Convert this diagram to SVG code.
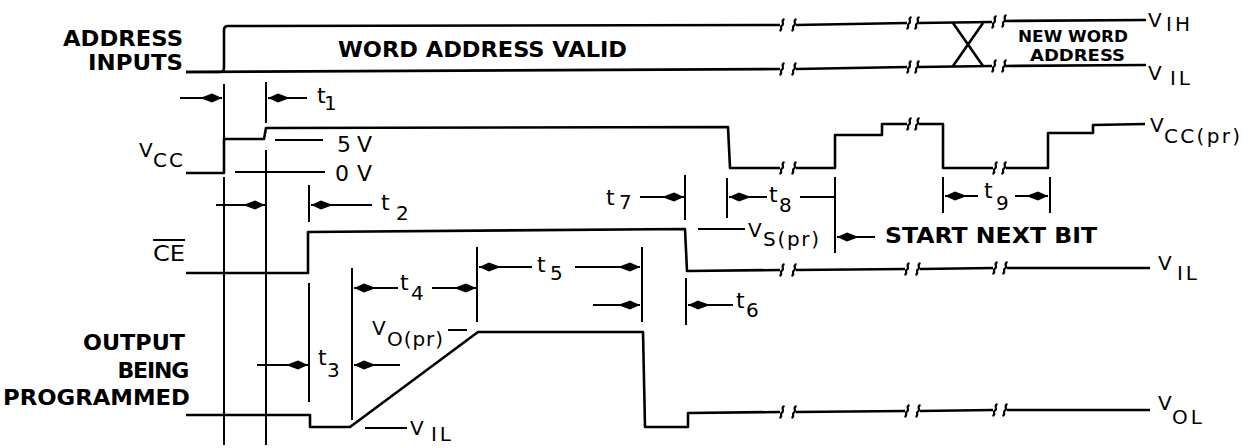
<svg xmlns="http://www.w3.org/2000/svg" xmlns:xlink="http://www.w3.org/1999/xlink" width="1256" height="448" viewBox="0 0 1256 448">
<style>
.w{fill:none;stroke:#000;stroke-width:2.6;stroke-linejoin:round}
.d{fill:none;stroke:#000;stroke-width:2}
.a{marker-end:url(#ah)}
.bk{fill:none;stroke:#000;stroke-width:2.2}
text{font-family:"DejaVu Sans","Liberation Sans",Arial,sans-serif;fill:#000}
.b{font-weight:bold;font-size:22px}
.n{font-size:22px}
.v{font-size:20px}
.s{font-size:20px}
.sm{font-weight:bold;font-size:16px}
</style>
<defs>
<marker id="ah" viewBox="-23 -5 24 10" refX="0" refY="0" markerWidth="24" markerHeight="10" markerUnits="userSpaceOnUse" orient="auto"><path d="M0,0 L-10,-4.5 L-22,0 L-10,4.5 Z" fill="#000"/></marker>
<path id="bk" d="M2.5,-6 C-2,-4.5 3,-1 0,0.5 C-3,2 1.5,4.5 -2.5,6"/>
</defs>
<rect width="1256" height="448" fill="#fff"/>

<g id="address">
<path class="w" d="M186,72 L220,72 Q224,72 224,68 L224,30 Q224,26 228,26 L780,25"/>
<path class="w" d="M796,25 L907,23 M918,23 L992,22 M1005,21 L1146,20"/>
<path class="w" d="M186,72 L780,69 M796,69 L907,67 M918,67 L992,66 M1005,66 L1146,65"/>
<path class="w" d="M953,23 L983,66 M983,23 L953,66"/>
<g class="bk">
<use href="#bk" x="782" y="25"/><use href="#bk" x="794" y="25"/>
<use href="#bk" x="782" y="69"/><use href="#bk" x="794" y="69"/>
<use href="#bk" x="909" y="23"/><use href="#bk" x="917" y="23"/>
<use href="#bk" x="909" y="67"/><use href="#bk" x="917" y="67"/>
<use href="#bk" x="994" y="22"/><use href="#bk" x="1004" y="21"/>
<use href="#bk" x="994" y="66"/><use href="#bk" x="1004" y="66"/>
</g>
<text class="b" x="63" y="46" textLength="120" lengthAdjust="spacingAndGlyphs">ADDRESS</text>
<text class="b" x="88" y="70" textLength="95" lengthAdjust="spacingAndGlyphs">INPUTS</text>
<text class="b" x="338" y="57" textLength="289" lengthAdjust="spacingAndGlyphs">WORD ADDRESS VALID</text>
<text class="sm" x="1018" y="42" textLength="110" lengthAdjust="spacingAndGlyphs">NEW WORD</text>
<text class="sm" x="1030" y="61" textLength="95" lengthAdjust="spacingAndGlyphs">ADDRESS</text>
<text class="v" x="1148" y="27">V<tspan class="s" x="1166" y="31" textLength="24" lengthAdjust="spacing">IH</tspan></text>
<text class="v" x="1148" y="80">V<tspan class="s" x="1170" y="85" textLength="20" lengthAdjust="spacing">IL</tspan></text>
</g>

<g id="vcc">
<path class="w" d="M186,173 L224,173 L224,139 L264,139 L266,128 L728,127 L730,168 L780,168 M796,168 L835,168 L835,135 L882,135 L882,124 L907,124 M919,124 L943,124 L943,168 L993,168 M1006,168 L1048,168 L1048,133 L1093,133 L1093,125 L1145,124"/>
<g class="bk">
<use href="#bk" x="782" y="168"/><use href="#bk" x="794" y="168"/>
<use href="#bk" x="909" y="124"/><use href="#bk" x="917" y="124"/>
<use href="#bk" x="995" y="168"/><use href="#bk" x="1004" y="168"/>
</g>
<text class="v" x="139" y="157">V<tspan class="s" x="153" y="167" textLength="30" lengthAdjust="spacing">CC</tspan></text>
<text class="n" x="337" y="152" textLength="35" lengthAdjust="spacing">5V</text>
<text class="n" x="335" y="181" textLength="37" lengthAdjust="spacing">0V</text>
<text class="v" x="1150" y="132">V<tspan class="s" x="1164" y="143" textLength="76" lengthAdjust="spacing">CC(pr)</tspan></text>
</g>

<g id="ce">
<path class="w" d="M186,273 L308,273 L308,232 L685,229 L687,271 L780,270 M796,270 L905,269 M920,269 L993,268 M1007,268 L1150,268"/>
<g class="bk">
<use href="#bk" x="782" y="270"/><use href="#bk" x="794" y="270"/>
<use href="#bk" x="907" y="269"/><use href="#bk" x="918" y="269"/>
<use href="#bk" x="995" y="268"/><use href="#bk" x="1005" y="268"/>
</g>
<text class="n" x="153" y="261" textLength="32" lengthAdjust="spacingAndGlyphs">CE</text>
<line class="d" x1="153" y1="240" x2="185" y2="240"/>
<text class="v" x="1158" y="270">V<tspan class="s" x="1177" y="280" textLength="20" lengthAdjust="spacing">IL</tspan></text>
<text class="v" x="748" y="237">V<tspan class="s" x="763" y="246" textLength="56" lengthAdjust="spacing">S(pr)</tspan></text>
<text class="b" x="885" y="243" textLength="212" lengthAdjust="spacingAndGlyphs">START NEXT BIT</text>
</g>

<g id="output">
<path class="w" d="M186,415 L310,415 L310,427 L350,427 L478,332 L643,332 L645,427 L688,427 L688,413 L780,412 M796,412 L905,411 M920,411 L993,410 M1007,410 L1150,410"/>
<g class="bk">
<use href="#bk" x="782" y="412"/><use href="#bk" x="794" y="412"/>
<use href="#bk" x="907" y="411"/><use href="#bk" x="918" y="411"/>
<use href="#bk" x="995" y="410"/><use href="#bk" x="1005" y="410"/>
</g>
<text class="b" x="83" y="350" textLength="102" lengthAdjust="spacingAndGlyphs">OUTPUT</text>
<text class="b" x="188" y="378" text-anchor="end" letter-spacing="-1.2">BEING</text>
<text class="b" x="3" y="405" textLength="187" lengthAdjust="spacingAndGlyphs">PROGRAMMED</text>
<text class="v" x="372" y="335">V<tspan class="s" x="387" y="346" textLength="56" lengthAdjust="spacing">O(pr)</tspan></text>
<line class="d" x1="448" y1="330" x2="467" y2="330"/>
<line class="d" x1="365" y1="428" x2="407" y2="428"/>
<text class="v" x="410" y="435">V<tspan class="s" x="431" y="441" textLength="20" lengthAdjust="spacing">IL</tspan></text>
<text class="v" x="1158" y="410">V<tspan class="s" x="1172" y="424" textLength="30" lengthAdjust="spacing">OL</tspan></text>
</g>

<g id="connectors">
<path class="d" d="M224,84 L224,139 M224,177 L224,445 M266,82 L266,123 M266,150 L266,445 M309,185 L309,222 M309,283 L309,402"/>
<path class="d" d="M352,268 L352,420 M477,247 L477,322 M642,247 L642,322 M686,278 L686,325 M685,175 L685,220 M727,178 L727,218 M835,177 L835,253 M943,177 L943,213 M1050,177 L1050,213"/>
<line class="d" x1="275" y1="140" x2="323" y2="140"/>
<line class="d" x1="235" y1="172" x2="325" y2="172"/>
<line class="d" x1="698" y1="229" x2="745" y2="229"/>
<line class="d" x1="800" y1="197" x2="835" y2="197"/>
<line class="d a" x1="180" y1="98" x2="222" y2="98"/>
<line class="d a" x1="307" y1="98" x2="268" y2="98"/>
<line class="d a" x1="216" y1="205" x2="265" y2="205"/>
<line class="d a" x1="372" y1="205" x2="311" y2="205"/>
<line class="d a" x1="398" y1="288" x2="354" y2="288"/>
<line class="d a" x1="432" y1="288" x2="476" y2="288"/>
<line class="d a" x1="532" y1="267" x2="479" y2="267"/>
<line class="d a" x1="575" y1="267" x2="640" y2="267"/>
<line class="d a" x1="593" y1="305" x2="640" y2="305"/>
<line class="d a" x1="733" y1="305" x2="688" y2="305"/>
<line class="d a" x1="257" y1="365" x2="308" y2="365"/>
<line class="d a" x1="400" y1="365" x2="354" y2="365"/>
<line class="d a" x1="640" y1="197" x2="684" y2="197"/>
<line class="d a" x1="767" y1="197" x2="729" y2="197"/>
<line class="d a" x1="875" y1="237" x2="837" y2="237"/>
<line class="d a" x1="978" y1="196" x2="945" y2="196"/>
<line class="d a" x1="1015" y1="196" x2="1048" y2="196"/>
<text class="n" x="317" y="103">t<tspan class="s" x="324" y="110">1</tspan></text>
<text class="n" x="381" y="210">t<tspan class="s" x="396" y="220">2</tspan></text>
<text class="n" x="318" y="365">t<tspan class="s" x="327" y="377">3</tspan></text>
<text class="n" x="400" y="290">t<tspan class="s" x="411" y="300">4</tspan></text>
<text class="n" x="537" y="272">t<tspan class="s" x="550" y="280">5</tspan></text>
<text class="n" x="736" y="308">t<tspan class="s" x="746" y="317">6</tspan></text>
<text class="n" x="606" y="205">t<tspan class="s" x="619" y="209">7</tspan></text>
<text class="n" x="769" y="202">t<tspan class="s" x="779" y="212">8</tspan></text>
<text class="n" x="984" y="198">t<tspan class="s" x="996" y="210">9</tspan></text>
</g>
</svg>
